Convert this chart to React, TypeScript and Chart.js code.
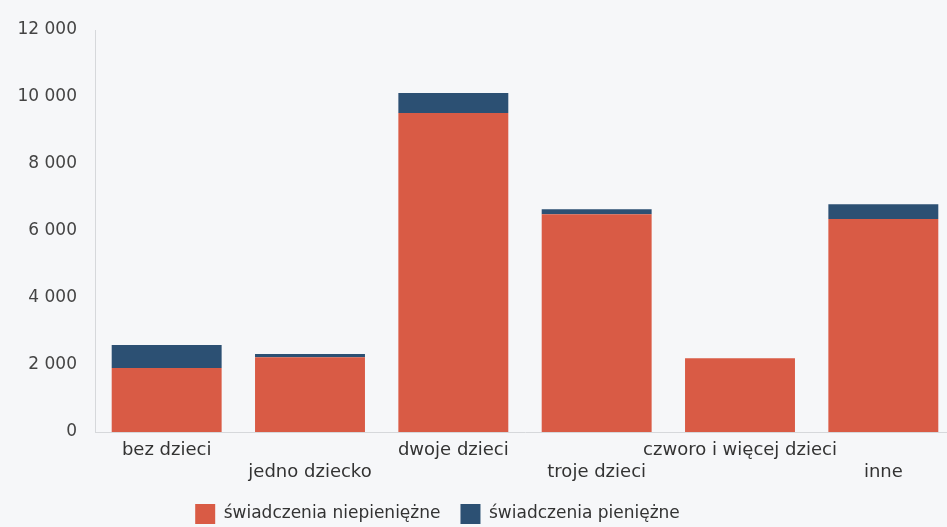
import { useEffect, useRef } from "react";
import { Chart, registerables } from "chart.js";

Chart.register(...registerables);

const categories: string[][] = [
  ["bez dzieci"],
  ["", "jedno dziecko"],
  ["dwoje dzieci"],
  ["", "troje dzieci"],
  ["czworo i więcej dzieci"],
  ["", "inne"],
];
const nonCashBenefits = [1910, 2230, 9520, 6500, 2200, 6360];
const cashBenefits = [690, 100, 600, 150, 0, 440];
const seriesNames = ["świadczenia niepieniężne", "świadczenia pieniężne"];
const yMin = 0;
const yMax = 12000;
const yStep = 2000;

const FONT = "'DejaVu Sans', Verdana, sans-serif";

function formatThousands(v: number): string {
  return String(v).replace(/\B(?=(\d{3})+(?!\d))/g, " ");
}

export default function App() {
  const canvasRef = useRef<HTMLCanvasElement | null>(null);

  useEffect(() => {
    if (!canvasRef.current) return;
    const chart = new Chart(canvasRef.current, {
      type: "bar",
      data: {
        labels: categories,
        datasets: [
          {
            label: seriesNames[0],
            data: nonCashBenefits,
            backgroundColor: "#d95b45",
            borderWidth: 0,
            categoryPercentage: 1,
            barPercentage: 0.767,
          },
          {
            label: seriesNames[1],
            data: cashBenefits,
            backgroundColor: "#2c5073",
            borderWidth: 0,
            categoryPercentage: 1,
            barPercentage: 0.767,
          },
        ],
      },
      options: {
        responsive: false,
        animation: false,
        devicePixelRatio: 1,
        layout: { padding: { top: 30, left: 0, right: 0, bottom: 0 } },
        plugins: {
          tooltip: { enabled: false },
          legend: {
            position: "bottom",
            align: "center",
            labels: {
              boxWidth: 20,
              boxHeight: 20,
              padding: 20,
              color: "#333333",
              font: { family: FONT, size: 17 },
            },
          },
        },
        scales: {
          x: {
            stacked: true,
            grid: { display: false, drawTicks: false },
            border: { display: true, color: "#d6d8db", width: 1 },
            ticks: {
              color: "#333333",
              padding: 8,
              maxRotation: 0,
              autoSkip: false,
              font: { family: FONT, size: 18 },
            },
            afterFit: (scale: any) => {
              scale.height = 52;
            },
          },
          y: {
            stacked: true,
            min: yMin,
            max: yMax,
            grid: { display: false, drawTicks: false },
            border: { display: true, color: "#d6d8db", width: 1 },
            ticks: {
              stepSize: yStep,
              color: "#444444",
              padding: 18,
              font: { family: FONT, size: 17 },
              callback: (v: any) => formatThousands(Number(v)),
            },
            afterFit: (scale: any) => {
              scale.width = 175;
            },
          },
        },
      },
    });
    return () => chart.destroy();
  }, []);

  return (
    <div
      style={{
        position: "absolute",
        left: 0,
        top: 0,
        width: 947,
        height: 527,
        overflow: "hidden",
        background: "#f6f7f9",
      }}
    >
      <canvas
        ref={canvasRef}
        width={1035}
        height={534}
        style={{ position: "absolute", left: -80, top: 0, width: 1035, height: 534 }}
      />
    </div>
  );
}
